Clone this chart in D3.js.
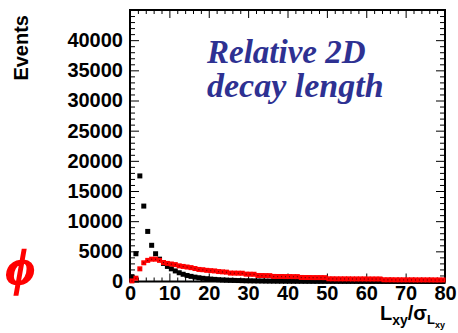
<!DOCTYPE html>
<html>
<head>
<meta charset="utf-8">
<script src="https://cdn.jsdelivr.net/npm/d3@7"></script>
<style>
  body { margin: 0; background: #fff; }
  svg { display: block; }
  .axis path, .axis line { stroke: #000; }
  .axis text { font-family: "Liberation Sans", Arial, sans-serif; font-weight: bold; font-size: 20px; fill: #000; }
</style>
</head>
<body>
<script>
// bin centres, width 1, 0..80
var binCentres = d3.range(80).map(function(i) { return i + 0.5; });

// background (black) events per bin
var blackCounts = [
  800, 4600, 17500, 12500, 8300, 6000, 4600, 3700, 3000, 2500,
  2100, 1750, 1450, 1200, 1000, 850, 720, 620, 530, 460,
  400, 350, 300, 260, 230, 200, 180, 160, 140, 120,
  110, 100, 90, 80, 70, 65, 60, 55, 50, 45,
  40, 38, 35, 33, 30, 28, 26, 25, 23, 22,
  20, 19, 18, 17, 16, 15, 14, 13, 12, 12,
  11, 10, 10, 9, 9, 8, 8, 7, 7, 6,
  6, 6, 5, 5, 5, 4, 4, 4, 3, 3
];

// phi signal (red) events per bin
var redCounts = [
  100, 550, 2100, 3100, 3500, 3700, 3700, 3500, 3150, 3000,
  2900, 2800, 2600, 2500, 2400, 2300, 2150, 2000, 1950, 1850,
  1800, 1750, 1650, 1600, 1550, 1400, 1390, 1380, 1370, 1220,
  1210, 1200, 1000, 990, 980, 970, 840, 830, 830, 820,
  820, 810, 810, 670, 660, 660, 650, 650, 650, 640,
  450, 450, 440, 440, 440, 440, 430, 430, 430, 430,
  420, 420, 420, 420, 290, 290, 290, 280, 280, 280,
  280, 280, 270, 270, 270, 270, 270, 260, 260, 260
];

var yMajor = [0, 5000, 10000, 15000, 20000, 25000, 30000, 35000, 40000];
var xMajor = [0, 10, 20, 30, 40, 50, 60, 70, 80];

var W = 458, H = 333;
var fL = 130, fR = 445, fT = 10, fB = 281.5;

var svg = d3.select('body').append('svg').attr('width', W).attr('height', H);

var x = d3.scaleLinear().domain([0, 80]).range([fL, fR]);
var y = d3.scaleLinear().domain([0, 45000]).range([fB, fT]);

var yMinor = d3.range(0, 45001, 1000).filter(function(v) { return v % 5000 !== 0; });
var xMinor = d3.range(0, 81, 2).filter(function(v) { return v % 10 !== 0; });

// minor ticks, all four sides, pointing inward
svg.append('g').attr('class', 'axis').attr('transform', `translate(${fL},0)`)
  .call(d3.axisLeft(y).tickValues(yMinor).tickSize(-5).tickFormat(''));
svg.append('g').attr('class', 'axis').attr('transform', `translate(${fR},0)`)
  .call(d3.axisRight(y).tickValues(yMinor).tickSize(-5).tickFormat(''));
svg.append('g').attr('class', 'axis').attr('transform', `translate(0,${fT})`)
  .call(d3.axisTop(x).tickValues(xMinor).tickSize(-4).tickFormat(''));
svg.append('g').attr('class', 'axis').attr('transform', `translate(0,${fB})`)
  .call(d3.axisBottom(x).tickValues(xMinor).tickSize(-4).tickFormat(''));

// major ticks with labels
svg.append('g').attr('class', 'axis').attr('transform', `translate(${fL},0)`)
  .call(d3.axisLeft(y).tickValues(yMajor).tickSize(-9).tickPadding(7).tickFormat(d3.format('d')));
svg.append('g').attr('class', 'axis').attr('transform', `translate(${fR},0)`)
  .call(d3.axisRight(y).tickValues(yMajor).tickSize(-9).tickFormat(''));
svg.append('g').attr('class', 'axis').attr('transform', `translate(0,${fT})`)
  .call(d3.axisTop(x).tickValues(xMajor).tickSize(-8).tickFormat(''));
svg.append('g').attr('class', 'axis').attr('transform', `translate(0,${fB})`)
  .call(d3.axisBottom(x).tickValues(xMajor).tickSize(-8).tickPadding(4).tickFormat(d3.format('d')));

svg.selectAll('.axis path').remove();

// frame
svg.append('rect').attr('x', fL).attr('y', fT).attr('width', fR - fL).attr('height', fB - fT)
  .attr('fill', 'none').attr('stroke', '#000').attr('stroke-width', 2);

var ms = 5;
var blackData = binCentres.map(function(c, i) { return {x: c, y: blackCounts[i]}; });
var redData = binCentres.map(function(c, i) { return {x: c, y: redCounts[i]}; });

svg.append('g').selectAll('rect').data(blackData).enter().append('rect')
  .attr('x', function(d) { return x(d.x) - ms / 2; })
  .attr('y', function(d) { return y(d.y) - ms / 2; })
  .attr('width', ms).attr('height', ms).attr('fill', '#000');

svg.append('g').selectAll('rect').data(redData).enter().append('rect')
  .attr('x', function(d) { return x(d.x) - ms / 2; })
  .attr('y', function(d) { return y(d.y) - ms / 2; })
  .attr('width', ms).attr('height', ms).attr('fill', '#ff0000');

// little dark centres of the red markers
svg.append('g').selectAll('rect').data(redData).enter().append('rect')
  .attr('x', function(d) { return x(d.x) - 0.5; })
  .attr('y', function(d) { return y(d.y) - 0.5; })
  .attr('width', 1).attr('height', 1.2).attr('fill', '#600');

// y title
svg.append('text').attr('transform', 'translate(28,15) rotate(-90)')
  .attr('text-anchor', 'end')
  .style('font-family', '"Liberation Sans", Arial, sans-serif').style('font-weight', 'bold').style('font-size', '20px')
  .text('Events');

// x title  L_xy / sigma_{L_xy}
var xt = svg.append('text').attr('x', fR).attr('y', 320).attr('text-anchor', 'end')
  .style('font-family', '"Liberation Sans", Arial, sans-serif').style('font-weight', 'bold').style('font-size', '20px');
xt.append('tspan').text('L');
xt.append('tspan').attr('dy', 5).style('font-size', '14px').text('xy');
xt.append('tspan').attr('dy', -5).text('/σ');
xt.append('tspan').attr('dy', 4).style('font-size', '13px').text('L');
xt.append('tspan').attr('dy', 4).style('font-size', '9px').text('xy');

// plot label
var lab = svg.append('text').attr('x', 207).attr('y', 63)
  .style('font-family', '"Liberation Serif", "Times New Roman", serif').style('font-weight', 'bold')
  .style('font-style', 'italic').style('font-size', '33px').attr('fill', '#2e3192');
lab.append('tspan').attr('x', 207).text('Relative 2D');
lab.append('tspan').attr('x', 207).attr('dy', 34).style('font-size', '34px').text('decay length');

// phi
svg.append('text').attr('x', 6).attr('y', 284)
  .style('font-family', '"Liberation Serif", "Times New Roman", serif').style('font-weight', 'bold')
  .style('font-style', 'italic').style('font-size', '50px').attr('fill', '#ff0000')
  .attr('stroke', '#ff0000').attr('stroke-width', 1.6)
  .text('ϕ');
</script>
</body>
</html>
